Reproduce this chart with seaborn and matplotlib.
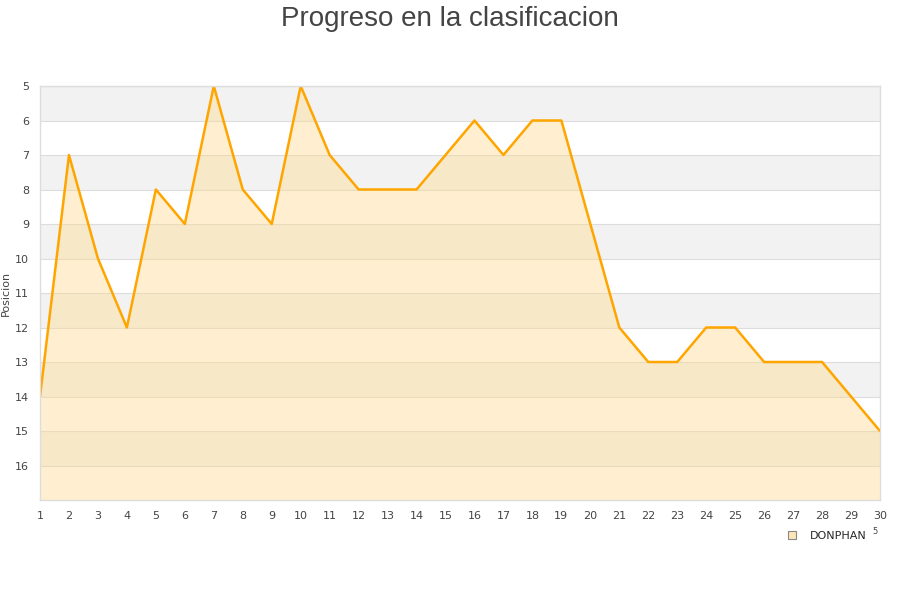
import matplotlib
matplotlib.use("Agg")
import matplotlib.pyplot as plt
import seaborn as sns
import pandas as pd

jornadas = list(range(1, 31))
posiciones = [14, 7, 10, 12, 8, 9, 5, 8, 9, 5, 7, 8, 8, 8, 7, 6, 7, 6, 6, 9,
              12, 13, 13, 12, 12, 13, 13, 13, 14, 15]
equipo = "DONPHAN"
y_ticks = list(range(5, 17))

df = pd.DataFrame({"Jornada": jornadas, "Posicion": posiciones})

sns.set_theme(style="white")
plt.rcParams['font.family'] = ['DejaVu Sans']

fig = plt.figure(figsize=(9, 6), dpi=100)
ax = fig.add_axes([40/900, 100/600, 840/900, 414/600])

# alternating bands
for i, y0 in enumerate(range(5, 17)):
    if i % 2 == 0:
        ax.axhspan(y0, y0 + 1, color="#f2f2f2", zorder=0, lw=0)

ax.yaxis.grid(True, color="#dddddd", lw=0.8)
ax.set_axisbelow(True)
ax.fill_between(df["Jornada"], df["Posicion"], 17, color="#ffd98a", alpha=0.4, zorder=1, lw=0)
sns.lineplot(data=df, x="Jornada", y="Posicion", ax=ax, color="#ffa500", lw=1.8, zorder=3)

ax.set_xlim(1, 30)
ax.set_ylim(17, 5)
ax.set_yticks(y_ticks)
ax.set_xticks(jornadas)
for s in ax.spines.values():
    s.set_color("#dddddd")
    s.set_linewidth(1)
    s.set_zorder(4)
ax.tick_params(axis="both", length=0, labelsize=8, colors="#444444", pad=8)
ax.set_xlabel("")
ax.set_ylabel("Posicion", fontsize=8, color="#444444", labelpad=3)

fig.text(0.5, 0.99, "Progreso en la clasificacion", ha="center", va="top",
         fontsize=20, color="#444444", family=["Liberation Sans", "DejaVu Sans"])

# legend
from matplotlib.lines import Line2D
h = Line2D([], [], marker="s", ls="none", markersize=6, markerfacecolor="#ffe6b8",
           markeredgecolor="#888888", markeredgewidth=0.8)
fig.legend([h], [equipo], loc="center", bbox_to_anchor=(0.915, 0.107), frameon=False,
           fontsize=8, handletextpad=0.6)
fig.text(875/900, 1 - 532/600, "5", fontsize=6, color="#444444", ha="center", va="center")

fig.savefig("out.png", dpi=100)
